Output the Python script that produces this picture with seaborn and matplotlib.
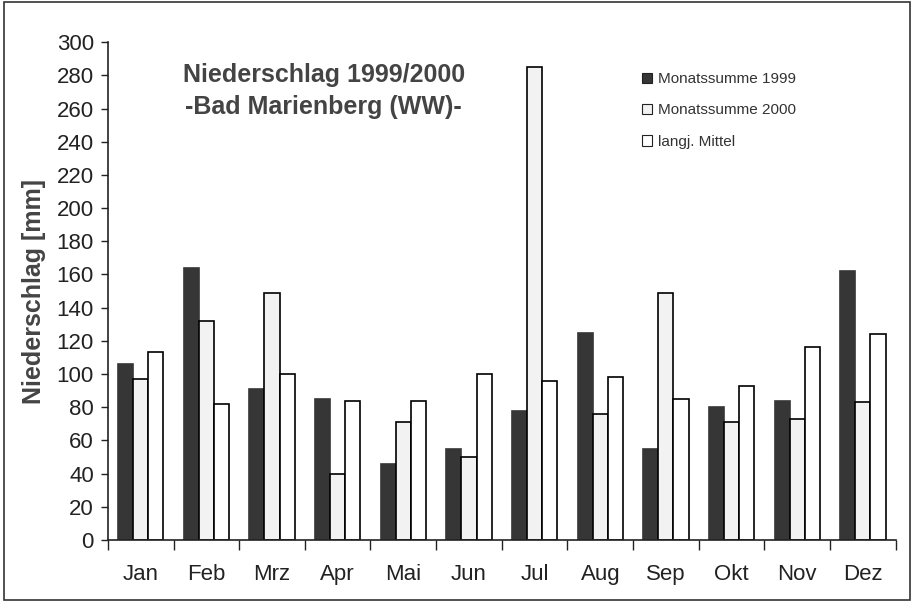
import pandas as pd
import matplotlib.pyplot as plt
import seaborn as sns
import numpy as np
from matplotlib.patches import Rectangle, Patch
from matplotlib.ticker import FixedLocator

# data
months = ['Jan', 'Feb', 'Mrz', 'Apr', 'Mai', 'Jun', 'Jul', 'Aug', 'Sep', 'Okt', 'Nov', 'Dez']
summe_1999 = [106, 164, 91, 85, 46, 55, 78, 125, 55, 80, 84, 162]
summe_2000 = [97, 132, 149, 40, 71, 50, 285, 76, 149, 71, 73, 83]
mittel = [113, 82, 100, 84, 84, 100, 96, 98, 85, 93, 116, 124]
series = ['Monatssumme 1999', 'Monatssumme 2000', 'langj. Mittel']
colors = ['#363636', '#f2f2f2', '#ffffff']

df = pd.DataFrame({
    'Monat': months * 3,
    'Wert': summe_1999 + summe_2000 + mittel,
    'Reihe': [s for s in series for _ in months],
})

sns.set_style('white')
plt.rcParams['font.family'] = ['Liberation Sans', 'DejaVu Sans']

fig = plt.figure(figsize=(9.14, 6.02), dpi=100)
ax = fig.add_axes([0.118, 0.103, 0.862, 0.827])

sns.barplot(data=df, x='Monat', y='Wert', hue='Reihe', palette=colors,
            width=0.69, gap=0, edgecolor='black', linewidth=1.2,
            legend=False, ax=ax)
# 1999 bars: dark fill, no separate outline
for bar in ax.containers[0]:
    bar.set_edgecolor('#363636')

ax.set_ylim(0, 300)
ax.set_xlim(-0.5, 11.5)
ax.set_yticks(np.arange(0, 301, 20))
ax.tick_params(axis='y', labelsize=16, colors='#222222', direction='out', length=5, left=True, width=1, pad=5)
ax.set_xticks(range(12))
ax.set_xticklabels(months)
ax.tick_params(axis='x', which='major', labelsize=16, colors='#222222', length=0, pad=17)
ax.xaxis.set_minor_locator(FixedLocator(np.arange(-0.5, 12, 1)))
ax.tick_params(axis='x', which='minor', direction='out', length=7, bottom=True, width=1, color='#222222')

for side in ['top', 'right']:
    ax.spines[side].set_visible(False)
for side in ['left', 'bottom']:
    ax.spines[side].set_color('#222222')
    ax.spines[side].set_linewidth(1.2)

ax.set_xlabel('')
ax.set_ylabel('Niederschlag [mm]', fontsize=18, fontweight='bold', color='#444444', labelpad=8)

ax.text(0.274, 0.935, 'Niederschlag 1999/2000', transform=ax.transAxes,
        ha='center', va='center', fontsize=18, fontweight='bold', color='#444444')
ax.text(0.274, 0.87, '-Bad Marienberg (WW)-', transform=ax.transAxes,
        ha='center', va='center', fontsize=18, fontweight='bold', color='#444444')

handles = [Patch(facecolor=c, edgecolor='#222222', linewidth=0.8) for c in colors]
ax.legend(handles, series, loc='upper left', bbox_to_anchor=(0.66, 0.967), frameon=False,
          fontsize=11, handlelength=0.7, handleheight=0.7, handletextpad=0.4,
          labelspacing=1.12, labelcolor='#333333')

fig.add_artist(Rectangle((0.004, 0.004), 0.992, 0.992, transform=fig.transFigure,
                         fill=False, edgecolor='#333333', linewidth=1.2))

fig.savefig('out.png', dpi=100)
